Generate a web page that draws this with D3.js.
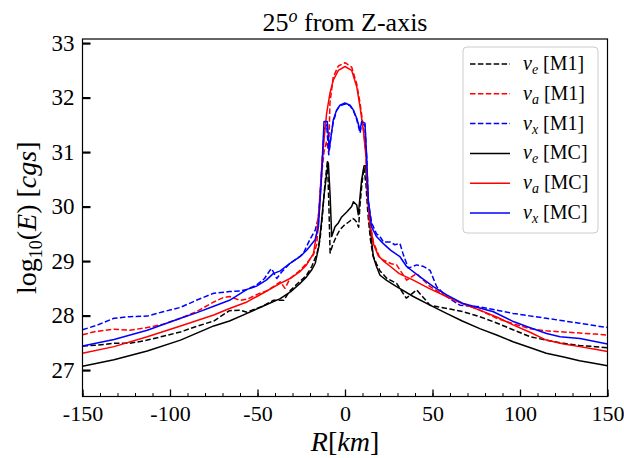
<!DOCTYPE html>
<html><head><meta charset="utf-8">
<script src="https://cdn.jsdelivr.net/npm/d3@7"></script>
<style>body{margin:0;background:#fff}svg{display:block}svg text{font-family:'Liberation Serif','Times New Roman',serif !important;fill:#000}</style>
</head><body><svg id="c" width="624" height="458" font-family="Liberation Serif"></svg>
<script>
// ---- data ----
const xTicks = [-150,-100,-50,0,50,100,150];
const yTicks = [27,28,29,30,31,32,33];
const xMinorTicks = d3.range(-150,151,10);

const R_eM1 = [-150,-141,-132,-123,-113,-104,-94,-85,-75,-66,-60,-56,-50.5,-47,-41,-35,-33,-31,-26,-22,-19,-16,-14.3,-13,-11.5,-10,-9.2,-8.5,-7,-5,-3,-1,0,1,3,4.5,5.5,6.5,7.8,8.5,9.5,10.8,12,13,14.5,16,18,20,24,29.5,35,41,48.6,53,60,67.6,77,87,96,106,115,125,134,143,150];
const E_eM1 = [27.44,27.46,27.49,27.49,27.55,27.62,27.70,27.80,27.90,28.09,28.10,28.06,28.13,28.17,28.28,28.28,28.38,28.47,28.62,28.74,28.90,29.14,29.39,29.80,30.40,30.85,30.00,29.15,29.30,29.45,29.57,29.64,29.67,29.69,29.74,29.78,29.76,29.72,29.62,30.00,30.36,30.72,30.40,29.90,29.40,29.10,28.95,28.82,28.68,28.59,28.32,28.47,28.19,28.16,28.12,28.07,27.98,27.86,27.74,27.61,27.55,27.49,27.45,27.43,27.41];

const R_aM1 = [-150,-142,-132,-123,-113,-104,-94,-85,-75,-69.5,-66,-60,-56,-52,-48,-44.8,-41,-37,-34.3,-31.4,-26,-21.9,-18,-16.2,-14.7,-13.3,-12,-10.5,-9.3,-8.6,-6.7,-3.8,0,3.8,6.7,8.6,10.5,12,12.8,13.9,16.2,20,23.8,26.5,29.5,35.2,41,48.6,58,67.6,77,86.7,96,105.7,115,124.8,134,143,150];
const E_aM1 = [27.65,27.71,27.75,27.73,27.78,27.84,27.95,28.07,28.25,28.33,28.35,28.28,28.30,28.36,28.42,28.45,28.53,28.62,28.50,28.68,28.82,28.96,29.12,29.30,29.90,30.60,31.00,31.20,31.00,31.90,32.38,32.58,32.64,32.56,32.25,31.90,31.45,30.95,30.30,29.80,29.35,29.05,28.99,28.95,28.93,28.65,28.77,28.53,28.35,28.22,28.10,27.95,27.85,27.76,27.72,27.70,27.68,27.66,27.64];

const R_xM1 = [-150,-142,-132,-123,-113,-104,-94,-85,-75,-66,-60,-56,-50.5,-46,-42.9,-41.9,-39,-36.2,-31.4,-26,-23.8,-20,-17,-15.2,-13.5,-12,-10.5,-9.3,-8,-6.7,-4.8,-2.9,0,2.9,4.8,6.7,8.6,9.5,11.4,12.4,13.3,15.2,18,20,22,25.7,28.5,31.4,33.5,36.2,41,45,48.6,52.4,58,65.7,77,96,115,134,150];
const E_xM1 = [27.74,27.82,27.95,27.98,27.99,28.07,28.15,28.28,28.41,28.44,28.45,28.48,28.56,28.68,28.83,28.86,28.68,28.80,28.96,29.08,29.14,29.40,29.57,29.80,30.60,31.40,31.50,30.95,31.30,31.55,31.76,31.85,31.88,31.85,31.76,31.60,31.35,31.50,31.50,30.90,30.10,29.70,29.50,29.45,29.35,29.35,29.30,29.32,29.10,28.87,28.93,28.90,28.83,28.53,28.35,28.19,28.16,28.04,27.95,27.86,27.78];

const R_eMC = [-150,-132,-113,-94,-75,-66,-56,-47,-37,-31,-26,-22,-19,-17,-15,-13.5,-12,-10.5,-9.5,-8.5,-7.6,-5.7,-3.8,-1.9,1,3.8,4.8,6.7,7.6,9.5,10.9,11.8,12.8,13.8,14.3,16.2,18,20,24,29,39,48,58,67,77,87,96,106,115,125,134,143,150];
const E_eMC = [27.07,27.19,27.35,27.55,27.81,27.90,28.04,28.17,28.31,28.44,28.58,28.71,28.84,28.96,29.26,29.70,30.20,30.60,30.80,30.20,29.45,29.63,29.70,29.81,29.90,30.00,30.09,30.03,29.85,30.49,30.75,30.75,30.30,29.85,29.63,29.08,28.90,28.74,28.64,28.54,28.35,28.20,28.04,27.90,27.76,27.64,27.52,27.41,27.31,27.24,27.17,27.12,27.08];

const R_aMC = [-150,-132,-113,-94,-75,-66,-56,-47,-37,-31.4,-26,-22,-18,-16.2,-14.7,-13.3,-12,-10.5,-8.6,-6.7,-3.8,0,3.8,6.7,8.6,10.5,12,12.8,13.9,16.2,19,22,26,31,39,48,58,67,77,87,96,106,115,125,134,143,150];
const E_aMC = [27.31,27.43,27.61,27.81,28.01,28.13,28.25,28.41,28.59,28.68,28.80,28.93,29.14,29.51,30.00,30.73,31.22,31.71,32.08,32.32,32.50,32.57,32.50,32.20,31.83,31.40,30.91,30.30,29.75,29.32,29.10,29.00,28.90,28.77,28.65,28.50,28.35,28.22,28.10,27.97,27.83,27.69,27.55,27.48,27.43,27.38,27.34];

const R_xMC = [-150,-132,-113,-94,-85,-75,-66,-56,-50.5,-45,-41,-37,-31.4,-25.7,-21.9,-17.1,-15.2,-13.3,-12,-10.1,-9,-6.7,-4.8,-2.9,0,2.9,4.8,6.7,8.6,9.5,11.4,12.4,13.3,15.2,18,21.9,26,31.4,35.2,42.9,50.5,58.1,67.6,84.8,96.2,103.8,115.2,122.9,134.3,150];
const E_xMC = [27.44,27.56,27.73,27.95,28.05,28.17,28.28,28.48,28.54,28.65,28.77,28.82,28.96,29.08,29.20,29.39,29.63,30.61,31.56,31.56,31.04,31.59,31.77,31.86,31.90,31.86,31.77,31.62,31.40,31.56,31.53,30.91,30.12,29.63,29.45,29.32,29.20,29.08,28.90,28.71,28.53,28.38,28.22,28.07,27.89,27.80,27.67,27.61,27.58,27.48];

const flavours = ["e","a","x","e","a","x"];
const methods = ["M1","M1","M1","MC","MC","MC"];
const colours = ["black","red","blue","black","red","blue"];
const dashed = [true,true,true,false,false,false];
const Rs = [R_eM1,R_aM1,R_xM1,R_eMC,R_aMC,R_xMC];
const Es = [E_eM1,E_aM1,E_xM1,E_eMC,E_aMC,E_xMC];

// ---- layout ----
const FONT = "'Liberation Serif','Times New Roman',serif";
const svg = d3.select("#c");
const L = 82.5, Rr = 607.5, T = 39, B = 396.5;
const x = d3.scaleLinear().domain([-150,150]).range([L,Rr]);
const y = d3.scaleLinear().domain([26.515,33.075]).range([B,T]);

svg.append("defs").append("clipPath").attr("id","clip")
  .append("rect").attr("x",L).attr("y",T).attr("width",Rr-L).attr("height",B-T);

const line = d3.line().x(d=>x(d[0])).y(d=>y(d[1]));
const g = svg.append("g").attr("clip-path","url(#clip)");
Rs.forEach((Rv,i)=>{
  const pts = Rv.map((r,j)=>[r,Es[i][j]]);
  g.append("path").datum(pts).attr("d",line)
   .attr("fill","none").attr("stroke",colours[i]).attr("stroke-width",1.5)
   .attr("stroke-linejoin","round")
   .attr("stroke-dasharray",dashed[i]?"5.5,2.4":null);
});

// axes
const ax = svg.append("g").attr("transform",`translate(0,${B})`)
  .call(d3.axisBottom(x).tickValues(xTicks).tickSizeInner(-7).tickSizeOuter(0).tickPadding(9)
        .tickFormat(d=>String(d)));
ax.attr("font-family",FONT).attr("font-size",22);
ax.select(".domain").remove();
ax.selectAll(".tick line").attr("stroke","#000").attr("stroke-width",1.3);

const axm = svg.append("g").attr("transform",`translate(0,${B})`)
  .call(d3.axisBottom(x).tickValues(xMinorTicks).tickSizeInner(-3.5).tickSizeOuter(0).tickFormat(""));
axm.select(".domain").remove();
axm.selectAll(".tick line").attr("stroke","#000").attr("stroke-width",1);

const ay = svg.append("g").attr("transform",`translate(${L},0)`)
  .call(d3.axisLeft(y).tickValues(yTicks).tickSizeInner(-8).tickSizeOuter(0).tickPadding(8)
        .tickFormat(d=>String(d)));
ay.attr("font-family",FONT).attr("font-size",23);
ay.select(".domain").remove();
ay.selectAll(".tick line").attr("stroke","#000").attr("stroke-width",2.2);

svg.append("rect").attr("x",L).attr("y",T).attr("width",Rr-L).attr("height",B-T)
  .attr("fill","none").attr("stroke","#000").attr("stroke-width",1.2);

// title
const tt = svg.append("text").attr("x",(L+Rr)/2).attr("y",31).attr("text-anchor","middle")
  .attr("font-family",FONT).attr("font-size",26);
tt.append("tspan").text("25");
tt.append("tspan").attr("font-style","italic").attr("font-size",18).attr("dy",-9).text("o");
tt.append("tspan").attr("dy",9).text(" from Z-axis");

// x label
const xl = svg.append("text").attr("x",(L+Rr)/2).attr("y",451).attr("text-anchor","middle")
  .attr("font-family",FONT).attr("font-size",28);
xl.append("tspan").attr("font-style","italic").text("R");
xl.append("tspan").text("[");
xl.append("tspan").attr("font-style","italic").text("km");
xl.append("tspan").text("]");

// y label
const yl = svg.append("text").attr("transform",`translate(36,${(T+B)/2}) rotate(-90)`).attr("text-anchor","middle")
  .attr("font-family",FONT).attr("font-size",28);
yl.append("tspan").text("log");
yl.append("tspan").attr("font-size",18).attr("dy",6).text("10");
yl.append("tspan").attr("dy",-6).text("(");
yl.append("tspan").attr("font-style","italic").text("E");
yl.append("tspan").text(") [");
yl.append("tspan").attr("font-style","italic").text("cgs");
yl.append("tspan").text("]");

// legend
const lg = svg.append("g").attr("font-family",FONT);
lg.append("rect").attr("x",463).attr("y",47).attr("width",135).attr("height",186).attr("rx",4)
  .attr("fill","#fff").attr("fill-opacity",0.8).attr("stroke","#cccccc").attr("stroke-width",1);
flavours.forEach((f,i)=>{
  const yy = 64 + i*29.8;
  lg.append("line").attr("x1",470).attr("x2",510).attr("y1",yy).attr("y2",yy)
    .attr("stroke",colours[i]).attr("stroke-width",1.5).attr("stroke-dasharray",dashed[i]?"5.5,2.4":null);
  const t = lg.append("text").attr("x",523).attr("y",yy+6).attr("font-size",20);
  t.append("tspan").attr("font-style","italic").text("ν");
  t.append("tspan").attr("font-style","italic").attr("font-size",14).attr("dy",4).text(f);
  t.append("tspan").attr("dy",-4).text("  [" + methods[i] + "]");
});
</script></body></html>
